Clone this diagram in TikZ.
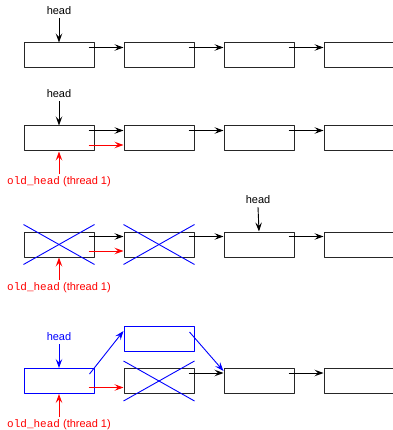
\documentclass[tikz,border=0pt]{standalone}
\usepackage{fontspec}
\setmainfont{Liberation Sans}
\setmonofont{Liberation Mono}
\usetikzlibrary{arrows.meta}
\tikzset{
  cell/.style={draw=black!85,line width=1pt,minimum width=70pt,minimum height=25pt,inner sep=0pt},
  lbl/.style={inner sep=0pt,outer sep=3pt},
  cross/.style={draw=blue,line width=0.9pt},
}
\begin{document}
\begin{tikzpicture}[x=1pt,y=-1pt,line join=round,>={Stealth[length=9pt,width=6.5pt,inset=3.5pt]},font=\fontsize{11}{13}\selectfont,line width=0.9pt]
	\useasboundingbox (0,0) rectangle (392,430);
	% list before the pop
	\node[cell] (a1) at (59,55.5) {};
	\node[cell] (b1) at (159,55.5) {};
	\node[cell] (c1) at (259,55.5) {};
	\node[cell] (d1) at (359,55.5) {};
	\node[lbl] (h1) at (59,11) {head};
	\draw[->] (h1.south) -- (a1.north);
	\draw[->] ([xshift=-6pt,yshift=-5pt]a1.north east) -- ([yshift=-5pt]b1.north west);
	\draw[->] ([xshift=-6pt,yshift=-5pt]b1.north east) -- ([yshift=-5pt]c1.north west);
	\draw[->] ([xshift=-6pt,yshift=-5pt]c1.north east) -- ([yshift=-5pt]d1.north west);
	% thread 1 reads head
	\node[cell] (a2) at (59,138.5) {};
	\node[cell] (b2) at (159,138.5) {};
	\node[cell] (c2) at (259,138.5) {};
	\node[cell] (d2) at (359,138.5) {};
	\node[lbl] (h2) at (59,94) {head};
	\node[lbl,text=red] (o2) at (59,182) {\texttt{old\_head} (thread 1)};
	\draw[->] (h2.south) -- (a2.north);
	\draw[->,red] (o2.north) -- (a2.south);
	\draw[->] ([xshift=-6pt,yshift=-5pt]a2.north east) -- ([yshift=-5pt]b2.north west);
	\draw[->,red] ([xshift=-6pt,yshift=6.5pt]a2.south east) -- ([yshift=6.5pt]b2.south west);
	\draw[->] ([xshift=-6pt,yshift=-5pt]b2.north east) -- ([yshift=-5pt]c2.north west);
	\draw[->] ([xshift=-6pt,yshift=-5pt]c2.north east) -- ([yshift=-5pt]d2.north west);
	% two nodes popped by others
	\node[cell] (a3) at (59,244.5) {};
	\node[cell] (b3) at (159,244.5) {};
	\node[cell] (c3) at (259,244.5) {};
	\node[cell] (d3) at (359,244.5) {};
	\node[lbl] (h3) at (258,200) {head};
	\node[lbl,text=red] (o3) at (59,288) {\texttt{old\_head} (thread 1)};
	\draw[->] (h3.south) -- (c3.north);
	\draw[->,red] (o3.north) -- (a3.south);
	\draw[->] ([xshift=-6pt,yshift=-5pt]a3.north east) -- ([yshift=-5pt]b3.north west);
	\draw[->,red] ([xshift=-6pt,yshift=6.5pt]a3.south east) -- ([yshift=6.5pt]b3.south west);
	\draw[->] ([xshift=-6pt,yshift=-5pt]b3.north east) -- ([yshift=-5pt]c3.north west);
	\draw[->] ([xshift=-6pt,yshift=-5pt]c3.north east) -- ([yshift=-5pt]d3.north west);
	\draw[cross] ([yshift=7pt]a3.north west) -- ([yshift=-7pt]a3.south east);
	\draw[cross] ([yshift=-7pt]a3.south west) -- ([yshift=7pt]a3.north east);
	\draw[cross] ([yshift=7pt]b3.north west) -- ([yshift=-7pt]b3.south east);
	\draw[cross] ([yshift=-7pt]b3.south west) -- ([yshift=7pt]b3.north east);
	% old node reused and pushed again
	\node[cell,draw=blue] (a4) at (59,381) {};
	\node[cell,draw=blue] (n4) at (159,339) {};
	\node[cell] (b4) at (159,381) {};
	\node[cell] (c4) at (259,381) {};
	\node[cell] (d4) at (359,381) {};
	\node[lbl,text=blue] (h4) at (59,337) {head};
	\node[lbl,text=red] (o4) at (59,425) {\texttt{old\_head} (thread 1)};
	\draw[->,blue] (h4.south) -- (a4.north);
	\draw[->,red] (o4.north) -- (a4.south);
	\draw[->,blue] ([xshift=-5pt,yshift=-6pt]a4.north east) -- ([yshift=-5pt]n4.north west);
	\draw[->,blue] ([xshift=-5pt,yshift=-6pt]n4.north east) -- ([yshift=-3pt]c4.north west);
	\draw[->,red] ([xshift=-6pt,yshift=6.5pt]a4.south east) -- ([yshift=6.5pt]b4.south west);
	\draw[->] ([xshift=-6pt,yshift=-5pt]b4.north east) -- ([yshift=-5pt]c4.north west);
	\draw[->] ([xshift=-6pt,yshift=-5pt]c4.north east) -- ([yshift=-5pt]d4.north west);
	\draw[cross] ([yshift=7pt]b4.north west) -- ([yshift=-7pt]b4.south east);
	\draw[cross] ([yshift=-7pt]b4.south west) -- ([yshift=7pt]b4.north east);
\end{tikzpicture}
\end{document}
